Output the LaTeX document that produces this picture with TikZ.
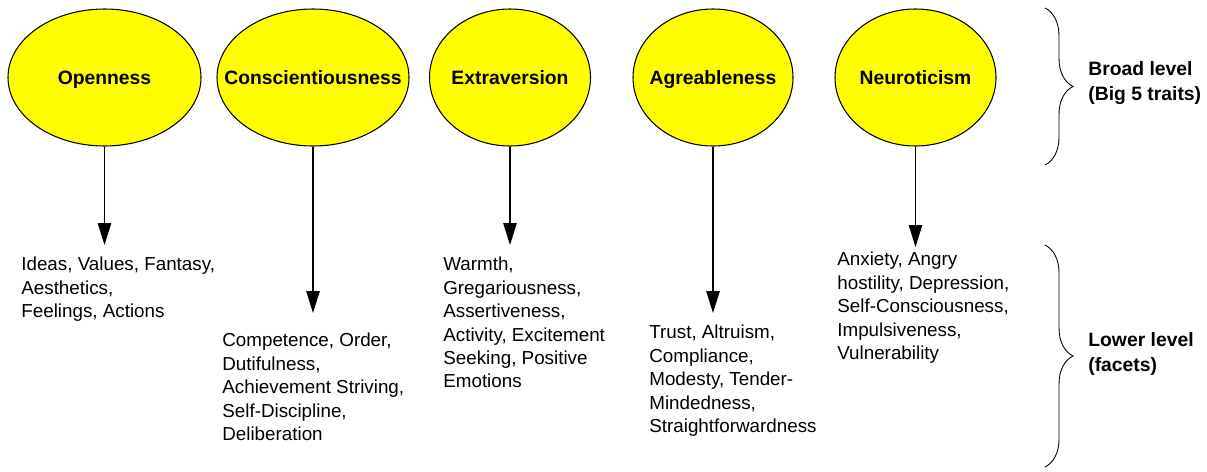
\documentclass[tikz,border=0pt]{standalone}
\usepackage{fontspec}
\setmainfont{Liberation Sans}
\usetikzlibrary{shapes.geometric,arrows.meta,decorations.pathreplacing}
\definecolor{traitfill}{RGB}{255,255,0}

\begin{document}
\begin{tikzpicture}[x=0.2mm, y=-0.2mm,
    trait/.style={ellipse, draw, line width=0.6pt, fill=traitfill, minimum height=27.4mm, inner sep=0pt, text depth=0pt, font=\fontsize{11}{13}\selectfont\bfseries},
    facets/.style={anchor=north west, inner sep=0pt, align=left, font=\fontsize{10.7}{13.3}\selectfont},
    link/.style={-{Triangle[length=4.4mm, width=2.7mm]}, line width=0.6pt},
    level/.style={anchor=west, inner sep=0pt, align=left, font=\fontsize{11}{14}\selectfont\bfseries},
    bracket/.style={decorate, decoration={brace, amplitude=5.6mm}, line width=0.5pt}]
  \useasboundingbox (0,0) rectangle (1207,471);
  \node[trait, minimum width=38.6mm] (open)  at (104.5, 77.5) {\makebox[0pt]{Openness}};
  \node[trait, minimum width=38.4mm] (consc) at (313,   77.5) {\makebox[0pt]{Conscientiousness}};
  \node[trait, minimum width=32.2mm] (extra) at (510,   77.5) {\makebox[0pt]{Extraversion}};
  \node[trait, minimum width=32mm]   (agree) at (713,   77.5) {\makebox[0pt]{Agreableness}};
  \node[trait, minimum width=32.2mm] (neuro) at (915.5, 77.5) {\makebox[0pt]{Neuroticism}};
  \coordinate (opentip)  at (104.5, 245);
  \coordinate (consctip) at (313,   313);
  \coordinate (extratip) at (510,   245);
  \coordinate (agreetip) at (713,   313);
  \coordinate (neurotip) at (915.5, 247);
  \draw[link] (open)  -- (opentip);
  \draw[link] (consc) -- (consctip);
  \draw[link] (extra) -- (extratip);
  \draw[link] (agree) -- (agreetip);
  \draw[link] (neuro) -- (neurotip);
  \node[facets] (openfac)  at (21,  257) {Ideas, Values, Fantasy,\\Aesthetics,\\Feelings, Actions};
  \node[facets] (conscfac) at (222, 333) {Competence, Order,\\Dutifulness,\\Achievement Striving,\\Self-Discipline,\\Deliberation};
  \node[facets] (extrafac) at (443, 257) {Warmth,\\Gregariousness,\\Assertiveness,\\Activity, Excitement\\Seeking, Positive\\Emotions};
  \node[facets] (agreefac) at (649, 325) {Trust, Altruism,\\Compliance,\\Modesty, Tender-\\Mindedness,\\Straightforwardness};
  \node[facets] (neurofac) at (837, 252) {Anxiety, Angry\\hostility, Depression,\\Self-Consciousness,\\Impulsiveness,\\Vulnerability};
  \draw[bracket] (1045, 8)   -- (1045, 165);
  \draw[bracket] (1045, 245) -- (1045, 467);
  \node[level] (broad) at (1088, 83)  {Broad level\\(Big 5 traits)};
  \node[level] (lower) at (1088, 354) {Lower level\\(facets)};
\end{tikzpicture}
\end{document}
